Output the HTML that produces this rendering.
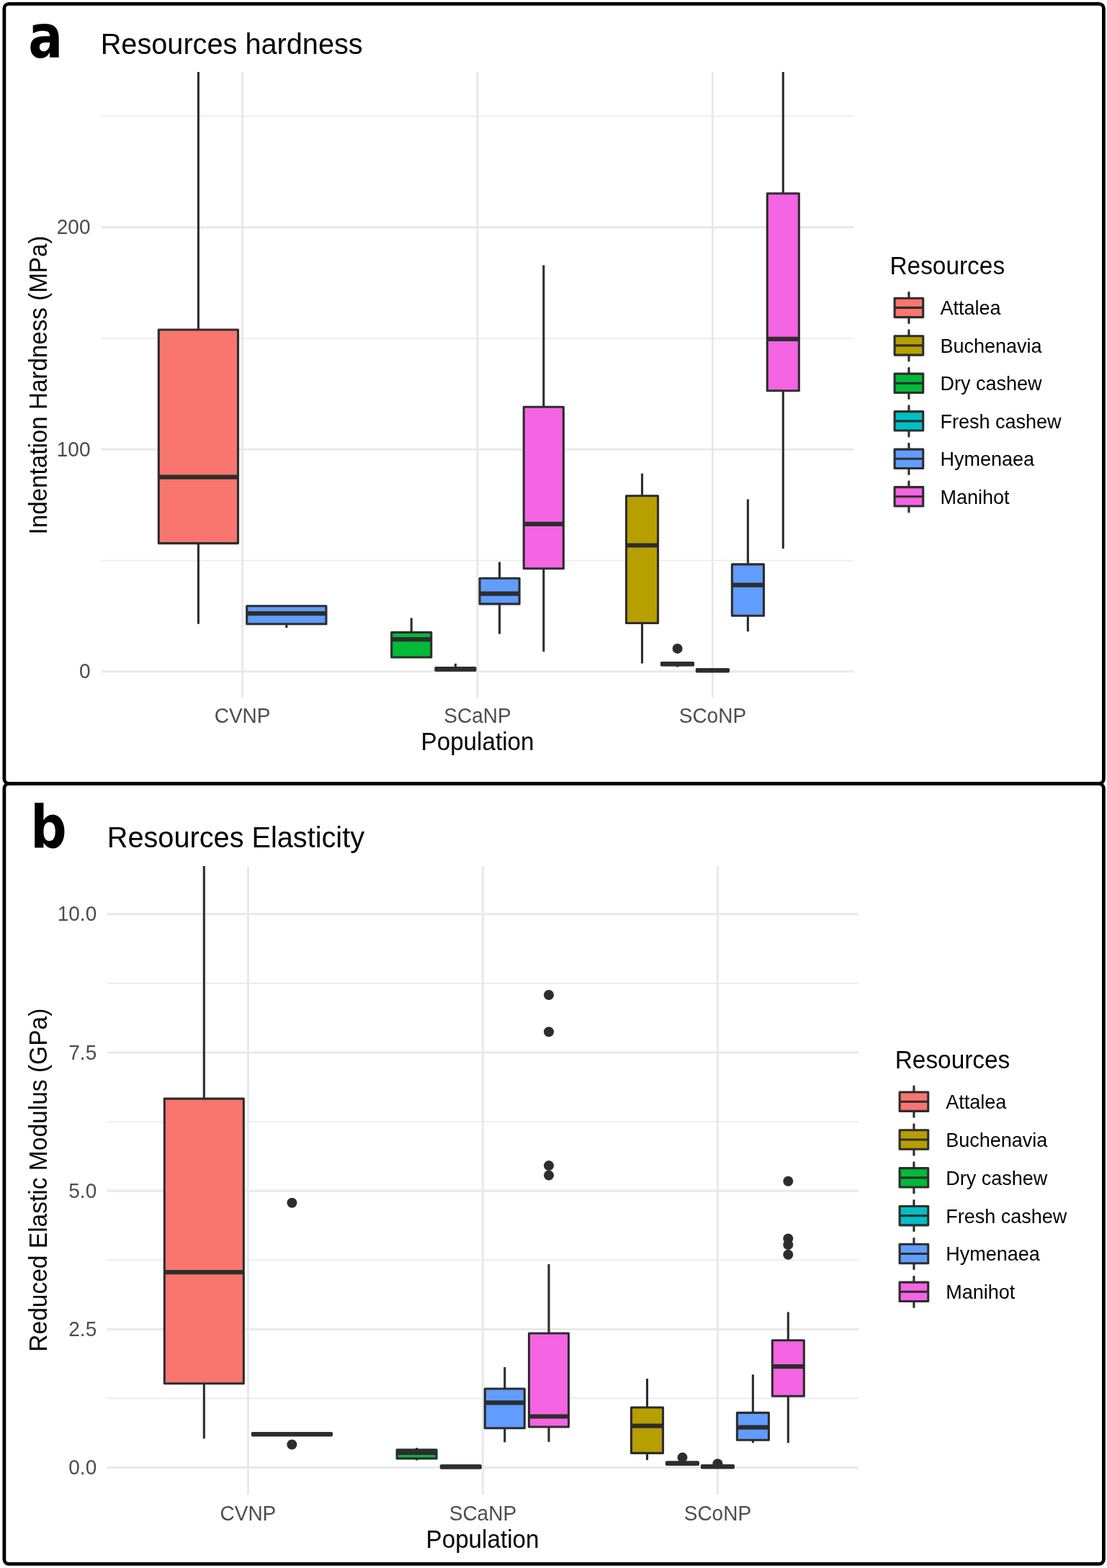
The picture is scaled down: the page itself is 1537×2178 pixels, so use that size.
<!DOCTYPE html>
<html><head><meta charset="utf-8"><title>Resources hardness and elasticity</title>
<style>
html,body{margin:0;padding:0;background:#fff;}
svg{display:block;}
text{font-family:"Liberation Sans", Arial, Helvetica, sans-serif;}
.tk{font-size:28.0px;fill:#4D4D4D;}
.ax{font-size:33.2px;fill:#000;}
.ti{font-size:39.7px;fill:#000;}
.lt{font-size:33.4px;fill:#000;}
.lg{font-size:27.0px;fill:#000;}
.tag{font-family:"DejaVu Sans",sans-serif;font-size:82.8px;font-weight:bold;fill:#000;}
.bx{stroke:#2d2d2d;stroke-width:3.1;stroke-linejoin:round;}
.md{stroke:#2d2d2d;stroke-width:6.2;stroke-linecap:butt;}
.wh{stroke:#2d2d2d;stroke-width:3.1;stroke-linecap:butt;}
.lw{stroke:#2d2d2d;stroke-width:3.1;stroke-linecap:round;}
</style></head>
<body>
<svg width="1537" height="2178" viewBox="0 0 1537 2178">
<rect x="0" y="0" width="1537" height="2178" fill="#fff"/>
<clipPath id="clipa"><rect x="140.7" y="100" width="1044.6" height="869"/></clipPath>
<line x1="140.7" y1="778.55" x2="1185.3" y2="778.55" stroke="#E9E9E9" stroke-width="1.6"/>
<line x1="140.7" y1="470.05" x2="1185.3" y2="470.05" stroke="#E9E9E9" stroke-width="1.6"/>
<line x1="140.7" y1="161.55" x2="1185.3" y2="161.55" stroke="#E9E9E9" stroke-width="1.6"/>
<line x1="140.7" y1="932.8" x2="1185.3" y2="932.8" stroke="#E9E9E9" stroke-width="3.1"/>
<line x1="140.7" y1="624.3" x2="1185.3" y2="624.3" stroke="#E9E9E9" stroke-width="3.1"/>
<line x1="140.7" y1="315.8" x2="1185.3" y2="315.8" stroke="#E9E9E9" stroke-width="3.1"/>
<line x1="336.6" y1="100" x2="336.6" y2="969" stroke="#E9E9E9" stroke-width="3.1"/>
<line x1="663" y1="100" x2="663" y2="969" stroke="#E9E9E9" stroke-width="3.1"/>
<line x1="989.4" y1="100" x2="989.4" y2="969" stroke="#E9E9E9" stroke-width="3.1"/>
<g clip-path="url(#clipa)">
<line x1="275.4" y1="90" x2="275.4" y2="458" class="wh"/>
<line x1="275.4" y1="754.6" x2="275.4" y2="866.7" class="wh"/>
<rect x="220.3" y="458" width="110.2" height="296.6" fill="#F8766D" class="bx"/>
<line x1="220.3" y1="662.6" x2="330.5" y2="662.6" class="md"/>
<line x1="397.8" y1="866.8" x2="397.8" y2="872.1" class="wh"/>
<rect x="342.7" y="841.7" width="110.2" height="25.1" fill="#619CFF" class="bx"/>
<line x1="342.7" y1="852.1" x2="452.9" y2="852.1" class="md"/>
<line x1="571.2" y1="858.4" x2="571.2" y2="878.4" class="wh"/>
<rect x="543.65" y="878.4" width="55.1" height="34.6" fill="#00BA38" class="bx"/>
<line x1="543.65" y1="888.1" x2="598.75" y2="888.1" class="md"/>
<line x1="632.4" y1="921.8" x2="632.4" y2="927.5" class="wh"/>
<rect x="604.85" y="927.5" width="55.1" height="3.8" fill="#00BFC4" class="bx"/>
<line x1="604.85" y1="929.4" x2="659.95" y2="929.4" class="md"/>
<line x1="693.6" y1="780.6" x2="693.6" y2="803.2" class="wh"/>
<line x1="693.6" y1="838.9" x2="693.6" y2="880.6" class="wh"/>
<rect x="666.05" y="803.2" width="55.1" height="35.7" fill="#619CFF" class="bx"/>
<line x1="666.05" y1="824.7" x2="721.15" y2="824.7" class="md"/>
<line x1="754.8" y1="368.4" x2="754.8" y2="565.2" class="wh"/>
<line x1="754.8" y1="789.7" x2="754.8" y2="905.2" class="wh"/>
<rect x="727.25" y="565.2" width="55.1" height="224.5" fill="#F564E3" class="bx"/>
<line x1="727.25" y1="727.8" x2="782.35" y2="727.8" class="md"/>
<line x1="891.5" y1="657.7" x2="891.5" y2="688.8" class="wh"/>
<line x1="891.5" y1="865.5" x2="891.5" y2="921.5" class="wh"/>
<rect x="869.47" y="688.8" width="44.06" height="176.7" fill="#B79F00" class="bx"/>
<line x1="869.47" y1="757.5" x2="913.53" y2="757.5" class="md"/>
<line x1="940.5" y1="923.9" x2="940.5" y2="926.5" class="wh"/>
<rect x="918.47" y="920.5" width="44.06" height="3.4" fill="#00BA38" class="bx"/>
<line x1="918.47" y1="922.2" x2="962.53" y2="922.2" class="md"/>
<circle cx="940.6" cy="900.9" r="7" fill="#2d2d2d"/>
<rect x="967.37" y="929.6" width="44.06" height="3.2" fill="#00BFC4" class="bx"/>
<line x1="967.37" y1="931.2" x2="1011.43" y2="931.2" class="md"/>
<line x1="1038.4" y1="693.4" x2="1038.4" y2="783.9" class="wh"/>
<line x1="1038.4" y1="855.3" x2="1038.4" y2="877.2" class="wh"/>
<rect x="1016.37" y="783.9" width="44.06" height="71.4" fill="#619CFF" class="bx"/>
<line x1="1016.37" y1="812.7" x2="1060.43" y2="812.7" class="md"/>
<line x1="1087.3" y1="90" x2="1087.3" y2="268.7" class="wh"/>
<line x1="1087.3" y1="542.7" x2="1087.3" y2="762.1" class="wh"/>
<rect x="1065.27" y="268.7" width="44.06" height="274" fill="#F564E3" class="bx"/>
<line x1="1065.27" y1="470.8" x2="1109.33" y2="470.8" class="md"/>
</g>
<text transform="translate(125.5,942.4) scale(1,1.05)" text-anchor="end" class="tk">0</text>
<text transform="translate(125.5,633.9) scale(1,1.05)" text-anchor="end" class="tk">100</text>
<text transform="translate(125.5,325.4) scale(1,1.05)" text-anchor="end" class="tk">200</text>
<text transform="translate(336.6,1004.4) scale(1,1.05)" text-anchor="middle" class="tk">CVNP</text>
<text transform="translate(663,1004.4) scale(1,1.05)" text-anchor="middle" class="tk">SCaNP</text>
<text transform="translate(989.4,1004.4) scale(1,1.05)" text-anchor="middle" class="tk">SCoNP</text>
<text transform="translate(663,1042.3) scale(1,1.03)" text-anchor="middle" class="ax">Population</text>
<text transform="translate(64.8,535) rotate(-90) scale(1,1.03)" text-anchor="middle" class="ax">Indentation Hardness (MPa)</text>
<text transform="translate(139.7,75) scale(1,1.03)" class="ti">Resources hardness</text>
<text transform="translate(39.2,79.6) scale(0.86,1)" class="tag">a</text>
<text transform="translate(1235.5,381) scale(1,1.03)" class="lt">Resources</text>
<line x1="1261.9" y1="406.28" x2="1261.9" y2="414.2" class="lw"/>
<line x1="1261.9" y1="440.6" x2="1261.9" y2="448.52" class="lw"/>
<rect x="1242.1" y="414.2" width="39.6" height="26.4" fill="#F8766D" class="bx"/>
<line x1="1242.1" y1="427.4" x2="1281.7" y2="427.4" stroke="#2d2d2d" stroke-width="3.1"/>
<text transform="translate(1305.5,437.4) scale(1,1.03)" class="lg">Attalea</text>
<line x1="1261.9" y1="458.76" x2="1261.9" y2="466.68" class="lw"/>
<line x1="1261.9" y1="493.08" x2="1261.9" y2="501" class="lw"/>
<rect x="1242.1" y="466.68" width="39.6" height="26.4" fill="#B79F00" class="bx"/>
<line x1="1242.1" y1="479.88" x2="1281.7" y2="479.88" stroke="#2d2d2d" stroke-width="3.1"/>
<text transform="translate(1305.5,489.88) scale(1,1.03)" class="lg">Buchenavia</text>
<line x1="1261.9" y1="511.24" x2="1261.9" y2="519.16" class="lw"/>
<line x1="1261.9" y1="545.56" x2="1261.9" y2="553.48" class="lw"/>
<rect x="1242.1" y="519.16" width="39.6" height="26.4" fill="#00BA38" class="bx"/>
<line x1="1242.1" y1="532.36" x2="1281.7" y2="532.36" stroke="#2d2d2d" stroke-width="3.1"/>
<text transform="translate(1305.5,542.36) scale(1,1.03)" class="lg">Dry cashew</text>
<line x1="1261.9" y1="563.72" x2="1261.9" y2="571.64" class="lw"/>
<line x1="1261.9" y1="598.04" x2="1261.9" y2="605.96" class="lw"/>
<rect x="1242.1" y="571.64" width="39.6" height="26.4" fill="#00BFC4" class="bx"/>
<line x1="1242.1" y1="584.84" x2="1281.7" y2="584.84" stroke="#2d2d2d" stroke-width="3.1"/>
<text transform="translate(1305.5,594.84) scale(1,1.03)" class="lg">Fresh cashew</text>
<line x1="1261.9" y1="616.2" x2="1261.9" y2="624.12" class="lw"/>
<line x1="1261.9" y1="650.52" x2="1261.9" y2="658.44" class="lw"/>
<rect x="1242.1" y="624.12" width="39.6" height="26.4" fill="#619CFF" class="bx"/>
<line x1="1242.1" y1="637.32" x2="1281.7" y2="637.32" stroke="#2d2d2d" stroke-width="3.1"/>
<text transform="translate(1305.5,647.32) scale(1,1.03)" class="lg">Hymenaea</text>
<line x1="1261.9" y1="668.68" x2="1261.9" y2="676.6" class="lw"/>
<line x1="1261.9" y1="703" x2="1261.9" y2="710.92" class="lw"/>
<rect x="1242.1" y="676.6" width="39.6" height="26.4" fill="#F564E3" class="bx"/>
<line x1="1242.1" y1="689.8" x2="1281.7" y2="689.8" stroke="#2d2d2d" stroke-width="3.1"/>
<text transform="translate(1305.5,699.8) scale(1,1.03)" class="lg">Manihot</text>
<clipPath id="clipb"><rect x="148.8" y="1203" width="1043" height="873"/></clipPath>
<line x1="148.8" y1="1942.41" x2="1191.8" y2="1942.41" stroke="#E9E9E9" stroke-width="1.6"/>
<line x1="148.8" y1="1750.24" x2="1191.8" y2="1750.24" stroke="#E9E9E9" stroke-width="1.6"/>
<line x1="148.8" y1="1558.06" x2="1191.8" y2="1558.06" stroke="#E9E9E9" stroke-width="1.6"/>
<line x1="148.8" y1="1365.89" x2="1191.8" y2="1365.89" stroke="#E9E9E9" stroke-width="1.6"/>
<line x1="148.8" y1="2038.5" x2="1191.8" y2="2038.5" stroke="#E9E9E9" stroke-width="3.1"/>
<line x1="148.8" y1="1846.33" x2="1191.8" y2="1846.33" stroke="#E9E9E9" stroke-width="3.1"/>
<line x1="148.8" y1="1654.15" x2="1191.8" y2="1654.15" stroke="#E9E9E9" stroke-width="3.1"/>
<line x1="148.8" y1="1461.97" x2="1191.8" y2="1461.97" stroke="#E9E9E9" stroke-width="3.1"/>
<line x1="148.8" y1="1269.8" x2="1191.8" y2="1269.8" stroke="#E9E9E9" stroke-width="3.1"/>
<line x1="344.4" y1="1203" x2="344.4" y2="2076" stroke="#E9E9E9" stroke-width="3.1"/>
<line x1="670.4" y1="1203" x2="670.4" y2="2076" stroke="#E9E9E9" stroke-width="3.1"/>
<line x1="996.4" y1="1203" x2="996.4" y2="2076" stroke="#E9E9E9" stroke-width="3.1"/>
<g clip-path="url(#clipb)">
<line x1="283.3" y1="1190" x2="283.3" y2="1526.1" class="wh"/>
<line x1="283.3" y1="1921.8" x2="283.3" y2="1998.3" class="wh"/>
<rect x="228.3" y="1526.1" width="110" height="395.7" fill="#F8766D" class="bx"/>
<line x1="228.3" y1="1767.1" x2="338.3" y2="1767.1" class="md"/>
<rect x="350.4" y="1990.6" width="110" height="3.2" fill="#619CFF" class="bx"/>
<line x1="350.4" y1="1992.2" x2="460.4" y2="1992.2" class="md"/>
<circle cx="405.3" cy="2006.5" r="7" fill="#2d2d2d"/>
<circle cx="405.4" cy="1670.7" r="7" fill="#2d2d2d"/>
<line x1="578.6" y1="2011" x2="578.6" y2="2013.8" class="wh"/>
<line x1="578.6" y1="2025.9" x2="578.6" y2="2028.5" class="wh"/>
<rect x="551.1" y="2013.8" width="55" height="12.1" fill="#00BA38" class="bx"/>
<line x1="551.1" y1="2018" x2="606.1" y2="2018" class="md"/>
<rect x="612.3" y="2035.7" width="55" height="3.2" fill="#00BFC4" class="bx"/>
<line x1="612.3" y1="2037.3" x2="667.3" y2="2037.3" class="md"/>
<line x1="700.8" y1="1899" x2="700.8" y2="1929" class="wh"/>
<line x1="700.8" y1="1983.7" x2="700.8" y2="2003.3" class="wh"/>
<rect x="673.3" y="1929" width="55" height="54.7" fill="#619CFF" class="bx"/>
<line x1="673.3" y1="1948.4" x2="728.3" y2="1948.4" class="md"/>
<line x1="762" y1="1756" x2="762" y2="1852" class="wh"/>
<line x1="762" y1="1982" x2="762" y2="2002.8" class="wh"/>
<rect x="734.5" y="1852" width="55" height="130" fill="#F564E3" class="bx"/>
<line x1="734.5" y1="1967.5" x2="789.5" y2="1967.5" class="md"/>
<circle cx="762" cy="1382" r="7" fill="#2d2d2d"/>
<circle cx="762" cy="1433.3" r="7" fill="#2d2d2d"/>
<circle cx="762" cy="1619.1" r="7" fill="#2d2d2d"/>
<circle cx="762" cy="1632.6" r="7" fill="#2d2d2d"/>
<line x1="898.5" y1="1915" x2="898.5" y2="1955" class="wh"/>
<line x1="898.5" y1="2018.4" x2="898.5" y2="2028.1" class="wh"/>
<rect x="876.5" y="1955" width="44" height="63.4" fill="#B79F00" class="bx"/>
<line x1="876.5" y1="1980.6" x2="920.5" y2="1980.6" class="md"/>
<rect x="925.4" y="2031.1" width="44" height="3.2" fill="#00BA38" class="bx"/>
<line x1="925.4" y1="2032.7" x2="969.4" y2="2032.7" class="md"/>
<circle cx="947.5" cy="2024.6" r="7" fill="#2d2d2d"/>
<rect x="974.4" y="2035.6" width="44" height="3.2" fill="#00BFC4" class="bx"/>
<line x1="974.4" y1="2037.2" x2="1018.4" y2="2037.2" class="md"/>
<circle cx="996.4" cy="2033.3" r="7" fill="#2d2d2d"/>
<line x1="1045.4" y1="1909.3" x2="1045.4" y2="1962.4" class="wh"/>
<line x1="1045.4" y1="2000.2" x2="1045.4" y2="2004.2" class="wh"/>
<rect x="1023.4" y="1962.4" width="44" height="37.8" fill="#619CFF" class="bx"/>
<line x1="1023.4" y1="1982.6" x2="1067.4" y2="1982.6" class="md"/>
<line x1="1094.3" y1="1822.6" x2="1094.3" y2="1861.7" class="wh"/>
<line x1="1094.3" y1="1939.2" x2="1094.3" y2="2004.2" class="wh"/>
<rect x="1072.3" y="1861.7" width="44" height="77.5" fill="#F564E3" class="bx"/>
<line x1="1072.3" y1="1898.2" x2="1116.3" y2="1898.2" class="md"/>
<circle cx="1094.3" cy="1640.8" r="7" fill="#2d2d2d"/>
<circle cx="1094.3" cy="1720.4" r="7" fill="#2d2d2d"/>
<circle cx="1094.3" cy="1729.1" r="7" fill="#2d2d2d"/>
<circle cx="1094.3" cy="1742.8" r="7" fill="#2d2d2d"/>
</g>
<text transform="translate(134.2,2048.1) scale(1,1.05)" text-anchor="end" class="tk">0.0</text>
<text transform="translate(134.2,1855.92) scale(1,1.05)" text-anchor="end" class="tk">2.5</text>
<text transform="translate(134.2,1663.75) scale(1,1.05)" text-anchor="end" class="tk">5.0</text>
<text transform="translate(134.2,1471.57) scale(1,1.05)" text-anchor="end" class="tk">7.5</text>
<text transform="translate(134.2,1279.4) scale(1,1.05)" text-anchor="end" class="tk">10.0</text>
<text transform="translate(344.4,2112.3) scale(1,1.05)" text-anchor="middle" class="tk">CVNP</text>
<text transform="translate(670.4,2112.3) scale(1,1.05)" text-anchor="middle" class="tk">SCaNP</text>
<text transform="translate(996.4,2112.3) scale(1,1.05)" text-anchor="middle" class="tk">SCoNP</text>
<text transform="translate(670,2149.6) scale(1,1.03)" text-anchor="middle" class="ax">Population</text>
<text transform="translate(64.6,1639.2) rotate(-90) scale(1.01,1.03)" text-anchor="middle" class="ax">Reduced Elastic Modulus (GPa)</text>
<text transform="translate(148.8,1177) scale(1,1.03)" class="ti">Resources Elasticity</text>
<text transform="translate(42.2,1177) scale(0.85,1)" class="tag">b</text>
<text transform="translate(1242.7,1484.3) scale(1,1.03)" class="lt">Resources</text>
<line x1="1268.9" y1="1509.08" x2="1268.9" y2="1517" class="lw"/>
<line x1="1268.9" y1="1543.4" x2="1268.9" y2="1551.32" class="lw"/>
<rect x="1249.1" y="1517" width="39.6" height="26.4" fill="#F8766D" class="bx"/>
<line x1="1249.1" y1="1530.2" x2="1288.7" y2="1530.2" stroke="#2d2d2d" stroke-width="3.1"/>
<text transform="translate(1313.3,1540.2) scale(1,1.03)" class="lg">Attalea</text>
<line x1="1268.9" y1="1561.9" x2="1268.9" y2="1569.82" class="lw"/>
<line x1="1268.9" y1="1596.22" x2="1268.9" y2="1604.14" class="lw"/>
<rect x="1249.1" y="1569.82" width="39.6" height="26.4" fill="#B79F00" class="bx"/>
<line x1="1249.1" y1="1583.02" x2="1288.7" y2="1583.02" stroke="#2d2d2d" stroke-width="3.1"/>
<text transform="translate(1313.3,1593.02) scale(1,1.03)" class="lg">Buchenavia</text>
<line x1="1268.9" y1="1614.72" x2="1268.9" y2="1622.64" class="lw"/>
<line x1="1268.9" y1="1649.04" x2="1268.9" y2="1656.96" class="lw"/>
<rect x="1249.1" y="1622.64" width="39.6" height="26.4" fill="#00BA38" class="bx"/>
<line x1="1249.1" y1="1635.84" x2="1288.7" y2="1635.84" stroke="#2d2d2d" stroke-width="3.1"/>
<text transform="translate(1313.3,1645.84) scale(1,1.03)" class="lg">Dry cashew</text>
<line x1="1268.9" y1="1667.54" x2="1268.9" y2="1675.46" class="lw"/>
<line x1="1268.9" y1="1701.86" x2="1268.9" y2="1709.78" class="lw"/>
<rect x="1249.1" y="1675.46" width="39.6" height="26.4" fill="#00BFC4" class="bx"/>
<line x1="1249.1" y1="1688.66" x2="1288.7" y2="1688.66" stroke="#2d2d2d" stroke-width="3.1"/>
<text transform="translate(1313.3,1698.66) scale(1,1.03)" class="lg">Fresh cashew</text>
<line x1="1268.9" y1="1720.36" x2="1268.9" y2="1728.28" class="lw"/>
<line x1="1268.9" y1="1754.68" x2="1268.9" y2="1762.6" class="lw"/>
<rect x="1249.1" y="1728.28" width="39.6" height="26.4" fill="#619CFF" class="bx"/>
<line x1="1249.1" y1="1741.48" x2="1288.7" y2="1741.48" stroke="#2d2d2d" stroke-width="3.1"/>
<text transform="translate(1313.3,1751.48) scale(1,1.03)" class="lg">Hymenaea</text>
<line x1="1268.9" y1="1773.18" x2="1268.9" y2="1781.1" class="lw"/>
<line x1="1268.9" y1="1807.5" x2="1268.9" y2="1815.42" class="lw"/>
<rect x="1249.1" y="1781.1" width="39.6" height="26.4" fill="#F564E3" class="bx"/>
<line x1="1249.1" y1="1794.3" x2="1288.7" y2="1794.3" stroke="#2d2d2d" stroke-width="3.1"/>
<text transform="translate(1313.3,1804.3) scale(1,1.03)" class="lg">Manihot</text>
<rect x="5.9" y="5.3" width="1526.5" height="1083.1" rx="6.5" ry="6.5" fill="none" stroke="#000" stroke-width="4.8"/>
<rect x="5.9" y="1088.7" width="1526.5" height="1083.7" rx="6.5" ry="6.5" fill="none" stroke="#000" stroke-width="4.8"/>
</svg>
</body></html>
